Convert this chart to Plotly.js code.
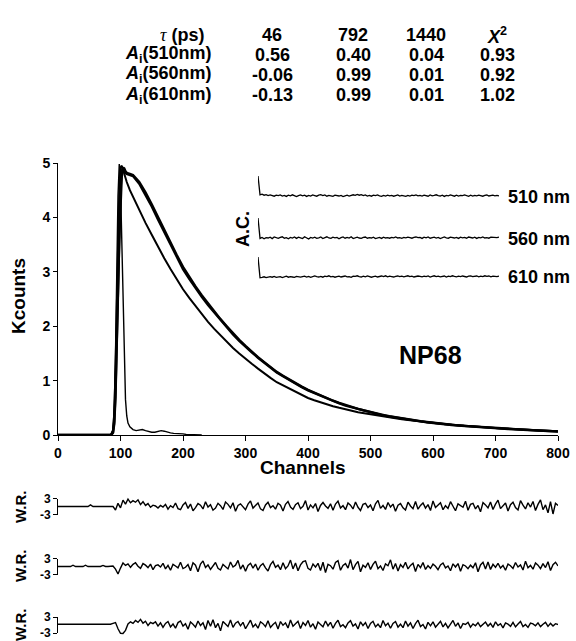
<!DOCTYPE html>
<html>
<head>
<meta charset="utf-8">
<script src="https://cdn.plot.ly/plotly-3.0.1.min.js"></script>
<style>html,body{margin:0;padding:0;background:#fff;}#chart{width:576px;height:641px;}</style>
</head>
<body>
<div id="chart"></div>
<script>
// ---------------- data ----------------
const tauLabels = ['46', '792', '1440'];
const waveLabels = ['510nm', '560nm', '610nm'];
const amp510 = [0.56, 0.40, 0.04];
const amp560 = [-0.06, 0.99, 0.01];
const amp610 = [-0.13, 0.99, 0.01];
const chi2 = [0.93, 0.92, 1.02];
const acLabels = ['510 nm', '560 nm', '610 nm'];

const xTicks = [0, 100, 200, 300, 400, 500, 600, 700, 800];
const yTicks = [0, 1, 2, 3, 4, 5];

const chDecay = [0,85,88,90,92,94,96,98,100,102,104,106,108,110,115,120,130,140,150,160,170,180,190,200,210,220,230,240,250,260,270,280,290,300,310,320,330,340,350,360,370,380,390,400,410,420,430,440,450,460,470,480,490,500,510,520,530,540,550,560,570,580,590,600,610,620,630,640,650,660,670,680,690,700,710,720,730,740,750,760,770,780,790,800];
const k560 = [0,0,0.05,0.25,0.8,1.7,2.8,3.8,4.5,4.85,4.92,4.88,4.82,4.80,4.78,
  4.76,4.62,4.42,4.20,3.96,3.73,3.49,3.27,3.05,2.87,2.70,2.54,2.39,2.25,2.11,1.98,1.85,1.73,1.62,1.52,1.42,1.33,1.24,1.15,1.08,1.01,0.94,0.88,0.82,0.77,0.72,0.67,0.62,0.58,0.54,0.51,0.47,0.44,0.41,0.39,0.36,0.34,0.32,0.30,0.28,0.265,0.25,0.235,0.22,0.21,0.195,0.185,0.175,0.165,0.157,0.148,0.14,0.132,0.125,0.118,0.11,0.103,0.097,0.09,0.085,0.08,0.075,0.07,0.065];
const k610 = [0,0,0.04,0.2,0.7,1.5,2.6,3.6,4.35,4.75,4.9,4.9,4.85,4.82,4.8,
  4.78,4.65,4.46,4.24,4.0,3.77,3.53,3.31,3.09,2.9,2.73,2.57,2.42,2.27,2.13,2.0,1.87,1.75,1.64,1.53,1.43,1.34,1.25,1.16,1.09,1.02,0.95,0.89,0.83,0.78,0.72,0.68,0.63,0.59,0.55,0.51,0.48,0.45,0.42,0.39,0.37,0.345,0.325,0.305,0.285,0.27,0.255,0.24,0.225,0.21,0.2,0.19,0.178,0.168,0.16,0.15,0.142,0.135,0.127,0.12,0.112,0.105,0.099,0.092,0.087,0.081,0.076,0.071,0.066];
const k510 = [0,0,0.08,0.4,1.2,2.4,3.6,4.5,4.92,4.95,4.88,4.8,4.72,4.65,4.5,
  4.38,4.12,3.9,3.68,3.46,3.25,3.05,2.86,2.68,2.52,2.37,2.22,2.08,1.95,1.83,1.71,1.60,1.50,1.40,1.31,1.22,1.13,1.05,0.97,0.91,0.85,0.79,0.73,0.68,0.64,0.60,0.56,0.53,0.50,0.47,0.44,0.42,0.40,0.38,0.36,0.34,0.32,0.305,0.29,0.275,0.26,0.245,0.232,0.22,0.208,0.197,0.187,0.177,0.168,0.159,0.15,0.142,0.134,0.127,0.12,0.113,0.106,0.1,0.094,0.088,0.083,0.078,0.073,0.068];

const chIrf = [0,84,88,90,92,94,96,98,100,102,104,106,108,110,112,115,120,125,130,135,140,145,150,155,160,165,170,175,180,185,190,195,200,205,210,220,230];
const irf = [0,0,0.1,0.5,1.5,3.0,4.4,4.98,4.6,3.6,2.4,1.3,0.65,0.35,0.22,0.15,0.1,0.08,0.09,0.1,0.08,0.06,0.05,0.05,0.07,0.08,0.07,0.05,0.04,0.03,0.03,0.02,0.02,0.01,0.01,0.005,0];

// weighted residuals, one value every 4 channels from channel 0
const wr510 = [0,0,0,0,0,0,0,0,0,0,0,0,0,0.6,0,0,0,0,0,0,0,0,
  0.0,-1.3,1.2,-0.5,2.4,0.9,2.8,1.4,2.2,1.6,
  2.5,0.7,1.8,0.4,1.1,-0.3,0.5,0.2,-0.6,0.4,
  -0.2,0.8,-1.0,0.3,-0.4,1.3,-0.8,-1.2,0.6,1.5,
  -0.7,0.9,-1.6,-0.4,1.1,0.5,-0.9,1.8,-0.2,0.7,
  -1.4,-0.6,1.2,0.3,-1.1,1.7,0.8,-0.5,1.4,-1.8,
  0.4,1.0,-0.3,-1.2,0.9,2.1,-0.6,0.2,1.3,-0.9,
  -1.5,0.6,1.6,-0.4,0.3,-1.0,1.2,0.5,-1.7,0.8,
  1.9,-0.2,-1.1,0.7,1.4,-0.8,0.1,2.2,-1.3,0.6,
  -0.5,1.1,-1.9,0.4,1.5,0.2,-0.7,1.0,-1.4,0.9,
  2.0,-0.6,0.3,-1.2,1.3,0.5,-0.9,1.7,-0.3,-1.5,
  0.8,1.2,-0.4,0.6,-1.6,1.0,2.3,-0.7,0.4,-1.1,
  1.5,-0.2,0.9,-1.8,0.5,1.1,-0.5,-1.3,1.6,0.2,
  -0.8,1.9,-1.0,0.4,1.3,-0.6,0.7,-1.5,2.1,-0.4,
  0.6,1.4,-1.2,0.3,-0.7,1.8,0.1,-1.6,1.0,0.5,
  -0.3,2.0,-1.4,0.8,1.2,-0.9,0.4,-2.0,1.5,0.6,
  -0.5,1.7,-1.1,0.9,2.4,-0.8,0.3,1.3,-1.7,0.7,
  1.6,-0.4,-1.3,2.2,0.5,-0.9,1.4,-0.2,1.9,-1.5,
  0.8,2.5,-1.2,0.6,-2.4,1.8,-2.8,1.2,0.4];
const wr560 = [0,0,0,0,0,0,0.5,0,0,0,0,0.5,0,0,0,0,0,0,0.4,0,0,0,
  0.2,-1.0,-2.8,-0.6,1.3,0.4,1.0,-0.3,0.8,1.4,
  0.1,-0.7,1.1,0.5,-0.4,0.9,-1.2,0.3,0.6,-0.2,
  1.2,-0.9,0.4,-1.4,0.8,0.2,-0.5,1.6,-0.8,-0.3,
  0.7,-1.6,1.4,0.5,-2.0,0.9,2.1,-0.4,0.6,-1.1,
  0.3,1.5,-0.7,-1.3,0.8,0.1,-0.9,1.7,-0.2,0.5,
  2.3,-1.0,0.6,-1.8,0.4,1.2,-0.6,0.9,-1.4,0.3,
  1.1,-0.5,-1.7,0.7,1.9,-0.3,0.5,-1.2,1.4,-0.8,
  0.2,2.4,-0.9,1.3,-1.6,0.6,1.8,2.1,-0.7,-1.3,
  0.9,-0.2,1.2,-1.5,1.6,-2.3,0.8,0.3,-1.0,1.5,
  2.2,-1.4,0.4,1.1,-0.6,2.6,-1.2,0.7,1.9,-2.0,
  0.5,-0.3,1.4,-1.1,0.8,2.0,-0.8,0.2,-1.5,1.0,
  0.3,2.5,-1.0,1.1,-1.7,0.7,-0.4,1.6,-0.9,0.4,
  1.2,-1.9,0.8,-0.4,1.5,-1.1,0.3,-0.7,0.9,0.1,
  -1.2,0.6,1.3,-0.5,0.2,-1.6,1.0,-0.2,1.1,-1.8,
  0.7,0.2,-0.8,0.5,-0.5,1.4,-2.0,0.6,1.6,-0.9,
  1.7,-1.1,0.8,-0.3,1.2,-0.6,0.4,-1.4,0.9,0.3,
  -0.7,1.5,-0.2,0.6,-1.3,2.0,-0.5,0.4,-1.0,1.3,
  0.5,-0.8,1.1,-0.4,1.8,-1.5,0.7,1.6,0.2];
const wr610 = [0.3,0.3,0.3,0.3,0.3,0.3,0.3,0.3,0.3,0.3,0.3,0.3,0.3,0.3,0.3,0.3,0.3,0.3,0.3,0.3,0.3,0.3,
  0.6,0.9,-1.4,-3.1,-3.2,-2.0,0.4,1.2,0.6,1.7,
  1.0,2.1,0.7,1.4,-0.2,1.0,0.5,1.2,-0.4,0.8,
  -0.9,0.6,1.3,-0.7,0.4,-1.2,0.9,1.5,-0.4,0.5,
  -1.6,1.1,0.3,-0.8,1.5,-0.2,0.8,-1.7,1.7,-0.5,
  2.0,-1.0,0.6,-2.2,1.3,0.4,-0.6,1.9,-0.9,0.7,
  1.3,-0.3,1.0,-1.4,0.5,1.8,-0.7,0.3,-1.2,1.2,
  0.5,-0.6,1.6,-0.9,0.2,1.0,-1.5,1.3,-0.1,0.8,
  -1.1,1.9,-0.5,0.4,1.4,-1.3,0.9,-0.2,1.7,-0.8,
  0.5,-1.6,1.1,0.2,-0.7,1.5,-0.3,1.0,-1.2,0.6,
  1.8,-0.6,0.1,-1.0,0.8,1.6,-0.4,0.4,-1.5,1.2,
  -0.2,0.9,-1.3,0.6,1.4,-0.7,0.3,-1.0,1.7,-0.3,
  0.7,-1.2,0.6,1.3,-0.8,0.3,-1.0,1.5,-0.4,0.8,
  -1.3,0.5,1.8,-0.6,0.2,-1.5,1.0,-0.3,1.2,-0.8,
  0.4,1.4,-0.7,0.6,-1.1,0.3,1.7,-0.5,0.8,-1.3,
  0.5,0.2,1.0,-0.8,0.4,-0.3,0.9,-0.6,0.3,1.1,
  -0.4,0.6,-0.9,1.2,-0.2,0.5,-1.1,0.8,0.3,-0.5,
  1.0,-0.7,0.4,1.3,-0.6,0.2,-0.9,0.7,0.4,-0.3,
  0.8,-0.6,0.3,1.0,-0.5,0.6,-0.4,0.5,0.2];

// autocorrelation of residuals, one value per lag
const ac510 = [1.0,0.06,0.09,0.04,0.07,0.02,0.05,0.03,-0.01,0.04,
  0.02,0.05,0.0,0.03,-0.02,0.04,0.01,0.06,0.0,-0.03,
  0.02,0.05,0.01,0.04,-0.02,0.03,0.0,0.05,0.02,-0.01,
  0.04,0.07,0.02,0.05,-0.01,0.03,0.01,-0.02,0.04,0.02,
  0.0,0.03,-0.03,0.01,0.04,0.0,0.02,0.06,0.03,0.08,
  0.04,0.07,0.02,0.05,0.0,0.03,-0.01,0.04,0.02,0.05,
  0.01,-0.02,0.03,0.0,0.04,0.01,0.03,-0.01,0.02,0.05,
  0.0,0.03,0.01,-0.02,0.03,0.0,0.04,0.02,0.05,0.01,
  0.03,0.0,0.04,0.02,-0.01,0.05,0.01,0.03,0.06,0.02,
  0.0,0.04,-0.02,0.03,0.01,0.05,0.02,-0.01,0.04,0.0,
  0.03,0.02,0.05,0.01,-0.02,0.04,0.0,0.03,0.01,0.04,
  0.02,-0.01,0.03,0.05,0.0,0.02,0.04,0.01,0.03,0.0];
const ac560 = [1.0,-0.02,0.03,-0.04,0.02,0.0,0.04,-0.03,0.05,0.01,
  -0.02,0.03,0.06,-0.01,0.02,-0.04,0.03,0.0,0.05,-0.02,
  0.04,0.01,-0.03,0.06,0.02,-0.05,0.03,0.0,0.04,-0.02,
  0.01,0.05,-0.03,0.02,0.06,0.0,-0.02,0.04,0.01,0.03,
  -0.04,0.02,0.05,-0.01,0.03,0.0,0.06,-0.03,0.02,0.04,
  0.0,-0.02,0.03,0.05,-0.01,0.02,0.0,0.04,-0.03,0.01,
  0.03,-0.02,0.04,0.0,0.02,-0.01,0.03,0.01,0.05,0.0,
  0.02,-0.02,0.03,0.01,0.04,0.02,-0.01,0.03,0.05,0.02,
  0.03,-0.02,0.04,0.01,0.05,-0.01,0.02,0.04,0.0,0.03,
  -0.03,0.02,0.05,0.01,-0.01,0.04,0.02,0.0,0.03,-0.02,
  0.04,0.01,0.03,-0.01,0.05,0.02,0.0,0.04,-0.02,0.03,
  0.01,0.05,0.0,0.02,-0.01,0.04,0.03,0.0,0.02,0.04];
const ac610 = [1.0,-0.04,-0.02,0.01,-0.03,0.0,0.02,-0.01,0.03,-0.02,
  0.0,0.02,-0.03,0.01,0.04,-0.01,0.02,0.0,-0.02,0.03,
  0.01,-0.01,0.02,0.04,0.0,0.03,-0.02,0.01,0.05,0.02,
  0.0,0.03,-0.01,0.04,0.02,0.06,0.01,0.03,-0.01,0.02,
  0.04,0.0,0.03,0.05,0.01,0.02,-0.02,0.04,0.03,0.06,
  0.02,0.0,0.04,0.01,0.05,0.03,-0.01,0.02,0.04,0.0,
  0.03,0.05,0.02,0.06,0.01,0.04,0.02,0.0,0.03,0.05,
  0.02,0.04,0.01,0.03,0.06,0.02,0.04,0.0,0.03,0.05,
  0.03,0.01,0.04,0.02,0.05,0.0,0.03,0.06,0.02,0.04,
  0.01,0.03,0.05,0.0,0.04,0.02,0.06,0.03,0.01,0.04,
  0.02,0.05,0.03,0.0,0.04,0.06,0.02,0.03,0.05,0.01,
  0.04,0.02,0.06,0.03,0.05,0.01,0.04,0.03,0.02,0.05];

// ---------------- layout helpers ----------------
const W = 576, H = 641;
const PX = x => x / W;
const PY = y => 1 - y / H;
const FONT = 'Liberation Sans, Arial, Helvetica, sans-serif';
const BLK = '#000';

const line = (w) => ({color: BLK, width: w});
const traces = [
  {x: chIrf, y: irf, xaxis: 'x', yaxis: 'y', mode: 'lines', line: line(1.4)},
  {x: chDecay, y: k510, xaxis: 'x', yaxis: 'y', mode: 'lines', line: line(2)},
  {x: chDecay, y: k560, xaxis: 'x', yaxis: 'y', mode: 'lines', line: line(2.4)},
  {x: chDecay, y: k610, xaxis: 'x', yaxis: 'y', mode: 'lines', line: line(2.4)},
  {y: ac510, x0: 0, dx: 1, xaxis: 'x2', yaxis: 'y2', mode: 'lines', line: line(1.3)},
  {y: ac560, x0: 0, dx: 1, xaxis: 'x3', yaxis: 'y3', mode: 'lines', line: line(1.3)},
  {y: ac610, x0: 0, dx: 1, xaxis: 'x4', yaxis: 'y4', mode: 'lines', line: line(1.3)},
  {y: wr510, x0: 0, dx: 4, xaxis: 'x5', yaxis: 'y5', mode: 'lines', line: line(1.4)},
  {y: wr560, x0: 0, dx: 4, xaxis: 'x6', yaxis: 'y6', mode: 'lines', line: line(1.4)},
  {y: wr610, x0: 0, dx: 4, xaxis: 'x7', yaxis: 'y7', mode: 'lines', line: line(1.4)},
  {x: [null], y: [null], xaxis: 'x5', yaxis: 'y8', mode: 'lines'},
  {x: [null], y: [null], xaxis: 'x6', yaxis: 'y9', mode: 'lines'},
  {x: [null], y: [null], xaxis: 'x7', yaxis: 'y10', mode: 'lines'}
].map(t => Object.assign({showlegend: false, hoverinfo: 'skip'}, t));

const hidden = (extra) => Object.assign({visible: false, showgrid: false, zeroline: false, fixedrange: true}, extra);
const tickFont = (s) => ({family: FONT, size: s, color: BLK, weight: 'bold'});

const layout = {
  width: W, height: H,
  margin: {l: 0, r: 0, t: 0, b: 0},
  paper_bgcolor: '#fff', plot_bgcolor: 'rgba(0,0,0,0)',
  showlegend: false,
  font: {family: FONT, color: BLK},
  xaxis: {domain: [PX(58), PX(558)], range: [0, 800], anchor: 'y',
    tickvals: xTicks, ticktext: xTicks.map(String),
    showline: true, linecolor: BLK, linewidth: 1, ticks: 'outside', ticklen: 5, tickwidth: 1, tickcolor: BLK,
    tickfont: tickFont(14), showgrid: false, zeroline: false, fixedrange: true},
  yaxis: {domain: [PY(435), PY(163)], range: [0, 5], anchor: 'x',
    tickvals: yTicks, ticktext: yTicks.map(String),
    showline: true, linecolor: BLK, linewidth: 1, ticks: 'outside', ticklen: 4, tickwidth: 1, tickcolor: BLK,
    tickfont: tickFont(14), showgrid: false, zeroline: false, fixedrange: true},
  xaxis2: hidden({domain: [PX(258), PX(499)], range: [0, 119], anchor: 'y2'}),
  xaxis3: hidden({domain: [PX(258), PX(499)], range: [0, 119], anchor: 'y3'}),
  xaxis4: hidden({domain: [PX(258), PX(499)], range: [0, 119], anchor: 'y4'}),
  yaxis2: hidden({domain: [PY(202), PY(175)], range: [-0.3, 1.05], anchor: 'x2'}),
  yaxis3: hidden({domain: [PY(244), PY(217)], range: [-0.3, 1.05], anchor: 'x3'}),
  yaxis4: hidden({domain: [PY(283), PY(256)], range: [-0.3, 1.05], anchor: 'x4'}),
  xaxis5: hidden({domain: [PX(58), PX(558)], range: [0, 800], anchor: 'y5'}),
  xaxis6: hidden({domain: [PX(58), PX(558)], range: [0, 800], anchor: 'y6'}),
  xaxis7: hidden({domain: [PX(58), PX(558)], range: [0, 800], anchor: 'y7'}),
  yaxis5: hidden({domain: [PY(522.5), PY(490.5)], range: [-6, 6], anchor: 'x5'}),
  yaxis6: hidden({domain: [PY(582.5), PY(550.5)], range: [-6, 6], anchor: 'x6'}),
  yaxis7: hidden({domain: [0, PY(609)], range: [-6, 6], anchor: 'x7'}),
  annotations: []
};
const bracket = (dom, anchor) => ({domain: dom, range: [-3, 3], anchor: anchor,
  tickvals: [3, -3], ticktext: ['3', '-3'], showline: true, linecolor: BLK, linewidth: 1,
  ticks: 'outside', ticklen: 4, tickwidth: 1, tickcolor: BLK, tickfont: tickFont(12),
  showgrid: false, zeroline: false, fixedrange: true});
layout.yaxis8 = bracket([PY(514.5), PY(498.5)], 'x5');
layout.yaxis9 = bracket([PY(574.5), PY(558.5)], 'x6');
layout.yaxis10 = bracket([PY(633), PY(617)], 'x7');

const ann = (text, x, y, size, opts) => layout.annotations.push(Object.assign({
  text: text, x: PX(x), y: PY(y), xref: 'paper', yref: 'paper', showarrow: false,
  xanchor: 'center', yanchor: 'middle',
  font: {family: FONT, size: size, color: BLK, weight: 'bold'}}, opts || {}));

// table
const colX = [272, 353, 426, 497];
const rowY = [35, 55, 75, 95];
ann('<span style="font-family:Liberation Serif;font-weight:normal"><i>τ</i></span> (ps)', 182, rowY[0], 18);
tauLabels.forEach((t, i) => ann(t, colX[i], rowY[0], 18));
ann('<i>X</i><sup>2</sup>', colX[3], rowY[0], 18);
[amp510, amp560, amp610].forEach((row, r) => {
  ann('<i>A</i><sub>i</sub>(' + waveLabels[r] + ')', 214, rowY[r + 1], 18, {xanchor: 'right'});
  row.forEach((v, i) => ann(v.toFixed(2), colX[i], rowY[r + 1], 18));
  ann(chi2[r].toFixed(2), colX[3], rowY[r + 1], 18);
});

// axis titles and labels
ann('Kcounts', 18, 296, 19, {textangle: -90});
ann('Channels', 303, 467, 19);
ann('NP68', 430, 355, 25);
ann('A.C.', 243, 229, 18, {textangle: -90});
acLabels.forEach((t, i) => ann(t, 506, [197, 239, 277][i], 18, {xanchor: 'left'}));
[507, 566, 625].forEach(y => ann('W.R.', 20, y, 15, {textangle: -90}));

Plotly.newPlot('chart', traces, layout, {staticPlot: true, displayModeBar: false});
</script>
</body>
</html>
